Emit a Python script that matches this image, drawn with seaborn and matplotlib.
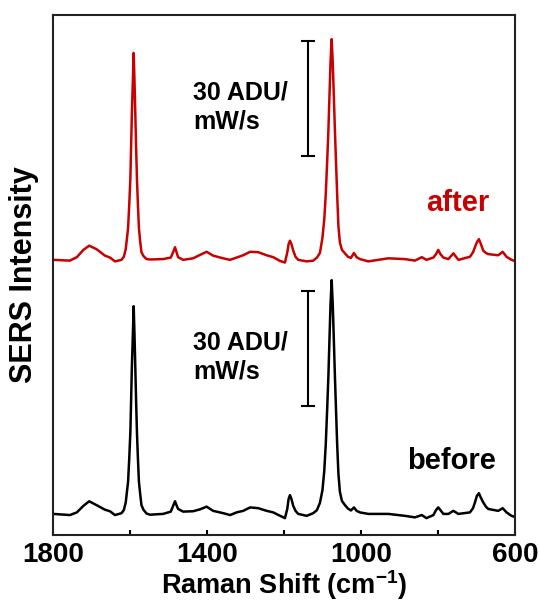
import matplotlib
matplotlib.use('Agg')
import numpy as np
import pandas as pd
import seaborn as sns
from matplotlib import pyplot as plt

# Raman shift grid (cm-1), shared by both spectra
raman_shift = [1799, 1756, 1738, 1721, 1706, 1687, 1665, 1652, 1639, 1622,
               1616, 1611, 1608, 1605, 1602, 1599, 1597, 1595, 1592.5, 1590.4,
               1588.3, 1586.3, 1584.2, 1581.9, 1579.3, 1576.7, 1573.5, 1570.2, 1565, 1557,
               1548, 1514, 1494, 1488, 1483, 1478.5, 1475, 1462, 1436, 1418,
               1401, 1384, 1358, 1340, 1323, 1306, 1288, 1267, 1245, 1228,
               1210, 1197.5, 1191.5, 1188, 1184.5, 1180.6, 1176, 1170, 1163, 1141,
               1124, 1114.4, 1106.6, 1100.1, 1095.4, 1091.5, 1087.6, 1084.5, 1081.9, 1079.1,
               1076.2, 1073.4, 1070.5, 1067.9, 1065.1, 1061.9, 1058.6, 1054.7, 1049.5, 1041.7,
               1033.9, 1026.1, 1018.3, 1011.3, 1002.7, 981, 929, 886, 860, 842,
               830, 812, 805, 799.4, 793.7, 786, 773, 760, 747, 717,
               709, 704, 699, 693.7, 688.5, 682.5, 675.5, 669.5, 643.5, 632,
               622, 609, 600]

# SERS intensity (ADU/mW/s)
before = [5.5, 5.2, 5.9, 7.6, 8.8, 7.8, 6.6, 6.2, 5.2, 5.7,
          6.5, 8.5, 11.2, 13.8, 19.8, 26.8, 35.5, 44.2, 52.4, 59.7,
          52.4, 44.2, 35.5, 26.8, 19.8, 13.8, 10.7, 7.8, 6.6, 5.6,
          5.3, 5.5, 6.1, 7.6, 8.8, 7.6, 6.8, 6.1, 6.2, 6.7,
          7.4, 6.3, 5.7, 5.2, 5.9, 6.3, 7.2, 7.0, 6.3, 5.9,
          5.0, 4.4, 6.8, 9.4, 10.4, 9.4, 7.6, 6.3, 5.5, 5.0,
          5.7, 6.5, 8.4, 11.7, 16.7, 23.7, 33.4, 42.0, 50.9, 60.3,
          66.5, 60.3, 50.9, 42.0, 33.4, 23.7, 15.9, 11.2, 8.9, 7.8,
          6.9, 6.4, 7.2, 6.3, 5.9, 5.5, 5.5, 5.0, 4.6, 5.2,
          4.4, 5.2, 6.5, 7.2, 6.5, 5.5, 5.5, 6.3, 5.5, 5.9,
          7.0, 8.5, 10.2, 10.9, 9.7, 8.5, 7.4, 6.8, 6.3, 7.0,
          5.9, 5.0, 4.7]

after = [5.8, 5.6, 6.5, 8.4, 9.5, 8.6, 6.9, 6.4, 5.4, 5.8,
         6.6, 8.6, 11.3, 14.0, 20.0, 27.0, 35.7, 44.4, 52.6, 59.8,
         52.6, 44.4, 35.7, 27.0, 20.0, 14.0, 10.6, 7.8, 6.8, 6.0,
         5.9, 6.0, 6.4, 7.8, 9.1, 7.6, 6.5, 5.8, 6.2, 7.1,
         7.9, 6.9, 6.2, 5.8, 6.4, 7.0, 7.9, 7.8, 7.0, 6.5,
         5.5, 5.1, 7.7, 9.9, 10.8, 9.9, 8.2, 6.6, 5.8, 5.4,
         5.6, 6.4, 7.6, 11.6, 16.3, 22.9, 32.0, 40.1, 48.5, 57.4,
         63.4, 57.4, 48.5, 40.1, 32.0, 22.9, 14.5, 10.3, 8.4, 7.5,
         6.6, 6.3, 7.6, 6.5, 6.0, 5.4, 6.2, 6.0, 5.6, 6.5,
         5.8, 6.4, 7.3, 8.4, 7.3, 6.4, 6.0, 7.5, 5.8, 6.6,
         7.8, 9.1, 10.4, 11.2, 9.9, 8.2, 7.6, 7.3, 7.0, 7.9,
         6.6, 5.8, 5.5]

OFFSET = 66.0  # vertical stacking of the "after" trace
RED = '#C80000'

sns.set_style('white')
plt.rcParams['font.family'] = ['Liberation Sans', 'DejaVu Sans']
plt.rcParams['font.weight'] = 'bold'
plt.rcParams['mathtext.fontset'] = 'custom'
plt.rcParams['mathtext.rm'] = 'Liberation Sans:bold'
plt.rcParams['mathtext.bf'] = 'Liberation Sans:bold'
plt.rcParams['text.color'] = 'black'
plt.rcParams['axes.labelcolor'] = 'black'
plt.rcParams['xtick.color'] = 'black'

n = len(raman_shift)
df = pd.DataFrame({
    'shift': raman_shift + raman_shift,
    'intensity': before + [v + OFFSET for v in after],
    'trace': ['before'] * n + ['after'] * n,
})

fig = plt.figure(figsize=(5.4, 6.02), dpi=100)
ax = fig.add_axes([0.0981, 0.1113, 0.8556, 0.8638])

sns.lineplot(data=df, x='shift', y='intensity', hue='trace', units='trace',
             palette={'before': 'black', 'after': RED}, estimator=None,
             sort=False, lw=1.8, legend=False, ax=ax)

ax.set_xlim(1800, 600)
ax.set_ylim(0, 135.7)

# 30 ADU/mW/s scale bars + labels
for base in [0.0, 65.3]:
    ax.errorbar(1138.5, base + 48.7, yerr=15, color='black', capsize=5,
                capthick=1.5, elinewidth=1.5)
    ax.text(1436, base + 48.4, '30 ADU/', fontsize=18, fontweight='bold',
            ha='left', va='baseline')
    ax.text(1436, base + 40.8, 'mW/s', fontsize=18, fontweight='bold',
            ha='left', va='baseline')

ax.text(649, 17.2, 'before', fontsize=21, fontweight='bold', ha='right', va='baseline')
ax.text(667, 84.5, 'after', fontsize=21, fontweight='bold', color=RED,
        ha='right', va='baseline')

ax.set_xticks([1800, 1400, 1000, 600])
ax.set_xticks(np.arange(600, 1801, 200), minor=True)
ax.set_yticks([])
ax.tick_params(axis='x', which='both', direction='in', length=3.6, width=1.5,
               bottom=True, top=False, labelsize=20, pad=5)
for lab in ax.get_xticklabels():
    lab.set_fontweight('bold')

for sp in ax.spines.values():
    sp.set_linewidth(1.5)
    sp.set_color('#222222')

ax.set_xlabel('Raman Shift (cm$^{-1}$)', fontsize=19.5, fontweight='bold', labelpad=0)
ax.set_ylabel('SERS Intensity', fontsize=22, fontweight='bold', labelpad=10)

plt.savefig('out.png', dpi=100)
